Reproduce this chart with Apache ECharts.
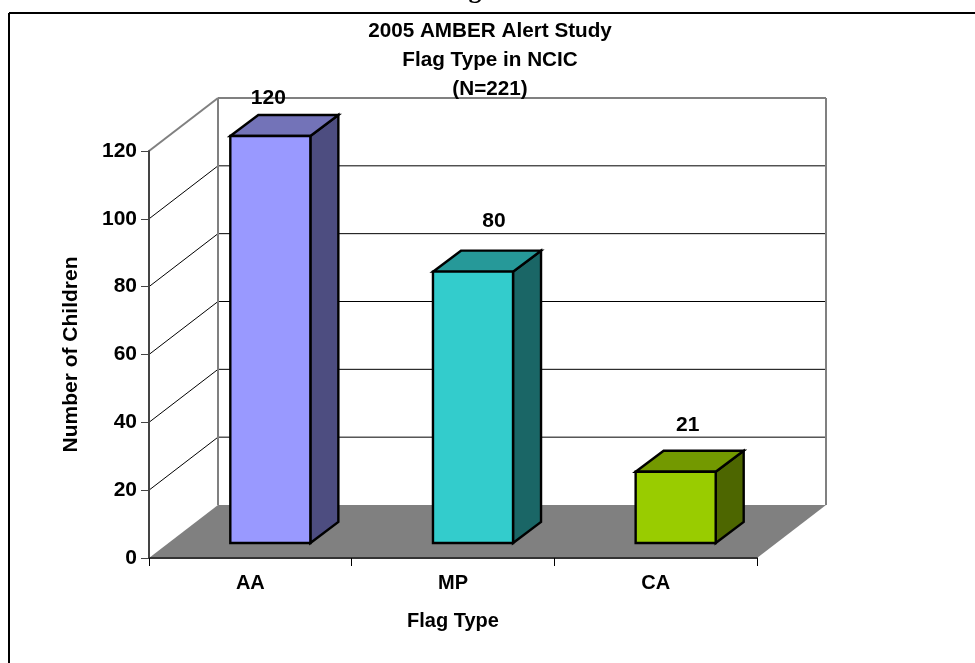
<!DOCTYPE html>
<html>
<head>
<meta charset="utf-8">
<style>html,body{margin:0;padding:0;background:#fff}#c{width:975px;height:663px}</style>
<script src="https://cdn.jsdelivr.net/npm/echarts@6/dist/echarts.min.js"></script>
</head>
<body>
<div id="c"></div>
<script>
const categories = ['AA', 'MP', 'CA'];
const values = [120, 80, 21];
const yTicks = [0, 20, 40, 60, 80, 100, 120];
const titleLines = ['2005 AMBER Alert Study', 'Flag Type in NCIC', '(N=221)'];
const frontColors = ['#9999FF', '#33CCCC', '#99CC00'];
const topColors = ['#7373B8', '#269999', '#739900'];
const sideColors = ['#4D4D80', '#1A6666', '#4D6600'];
const labelShiftX = [-2, 21, 12];
const labelShiftY = [38, 50, 47];

const FONT = '"Liberation Sans", Arial, sans-serif';
const WALL = [69, -53];         // depth of the 3D box
const BAR_FRONT = [20, -15];    // bar front face offset from the front plane
const BAR_DEPTH = [28, -21];    // bar depth
const BAR_WIDTH = 0.395;

const chart = echarts.init(document.getElementById('c'), null, {renderer: 'canvas'});

function seg(a, b, color, width) {
  return {type: 'line', shape: {x1: a[0], y1: a[1], x2: b[0], y2: b[1]},
          style: {stroke: color, lineWidth: width}, silent: true};
}
function poly(points, fill, stroke, width) {
  return {type: 'polygon', shape: {points},
          style: {fill, stroke: stroke || null, lineWidth: width || 0, lineJoin: 'miter'}};
}
const add = (p, d) => [p[0] + d[0], p[1] + d[1]];

const wallSeries = {
  type: 'custom', coordinateSystem: 'cartesian2d', z: 1, silent: true,
  data: yTicks.map(t => [0, t]),
  renderItem(params, api) {
    const v = api.value(1);
    const L = api.coord([0, v]);
    const w = api.size([1, 0])[0];
    const xL = L[0] - w / 2;
    const xR = xL + w * categories.length;
    const a = [xL, L[1]];
    const b = add(a, WALL);
    const c = [xR + WALL[0], b[1]];
    if (v === 0) {
      const d = [xR, L[1]];
      return {type: 'group', children: [poly([a, b, c, d], '#808080')]};
    }
    const top = v === yTicks[yTicks.length - 1];
    const col = top ? '#808080' : '#000';
    const lw = top ? 2 : 1;
    const children = [seg(a, b, col, lw), seg(b, c, col, lw)];
    if (top) {
      const base = api.coord([0, 0])[1] + WALL[1];
      children.push(seg(b, [b[0], base], '#808080', 2));
      children.push(seg(c, [c[0], base], '#808080', 2));
    }
    return {type: 'group', children};
  }
};

const barSeries = {
  type: 'custom', coordinateSystem: 'cartesian2d', z: 3, silent: true,
  data: values.map((v, i) => [i, v]),
  renderItem(params, api) {
    const i = api.value(0);
    const topPt = api.coord([i, api.value(1)]);
    const basePt = api.coord([i, 0]);
    const bw = api.size([1, 0])[0] * BAR_WIDTH;
    const cx = topPt[0] + BAR_FRONT[0];
    const xl = cx - bw / 2, xr = cx + bw / 2;
    const yt = topPt[1] + BAR_FRONT[1], yb = basePt[1] + BAR_FRONT[1];
    const tl = [xl, yt], tr = [xr, yt], bl = [xl, yb], br = [xr, yb];
    const lineW = 2.4;
    return {type: 'group', children: [
      poly([tr, add(tr, BAR_DEPTH), add(br, BAR_DEPTH), br], sideColors[i], '#000', lineW),
      poly([tl, add(tl, BAR_DEPTH), add(tr, BAR_DEPTH), tr], topColors[i], '#000', lineW),
      poly([tl, tr, br, bl], frontColors[i], '#000', lineW),
      {type: 'text', z2: 10, style: {
        text: String(api.value(1)), x: cx + labelShiftX[i], y: yt - labelShiftY[i],
        align: 'center', verticalAlign: 'middle', fill: '#000',
        font: 'bold 21px ' + FONT}}
    ]};
  }
};

chart.setOption({
  animation: false,
  backgroundColor: '#fff',
  title: {
    text: titleLines.join('\n'), left: 485, top: 12, textAlign: 'center',
    textStyle: {fontFamily: FONT, fontWeight: 'bold', fontSize: 20.7, lineHeight: 29, color: '#000'}
  },
  grid: {left: 149, right: 218, top: 151, bottom: 105, containLabel: false},
  xAxis: {
    type: 'category', data: categories, z: 5,
    name: 'Flag Type', nameLocation: 'middle', nameGap: 53,
    nameTextStyle: {fontFamily: FONT, fontWeight: 'bold', fontSize: 20, color: '#000'},
    axisLine: {lineStyle: {color: '#333', width: 2}},
    axisTick: {show: true, length: 8, lineStyle: {color: '#000', width: 1}},
    axisLabel: {fontFamily: FONT, fontWeight: 'bold', fontSize: 20, color: '#000', margin: 15},
    splitLine: {show: false}
  },
  yAxis: {
    type: 'value', min: 0, max: 120, interval: 20, z: 5,
    name: 'Number of Children', nameLocation: 'middle', nameGap: 67, nameRotate: 90,
    nameTextStyle: {fontFamily: FONT, fontWeight: 'bold', fontSize: 21, color: '#000'},
    axisLine: {show: true, lineStyle: {color: '#444', width: 2}},
    axisTick: {show: true, length: 8, lineStyle: {color: '#444', width: 1}},
    axisLabel: {fontFamily: FONT, fontWeight: 'bold', fontSize: 21, color: '#000', margin: 12, padding: [2, 0, 0, 0]},
    splitLine: {show: false}
  },
  graphic: [
    {type: 'line', shape: {x1: 9, y1: 13, x2: 975, y2: 13}, style: {stroke: '#000', lineWidth: 2}},
    {type: 'line', shape: {x1: 9, y1: 13, x2: 9, y2: 663}, style: {stroke: '#000', lineWidth: 2}},
    {type: 'text', x: 475, y: -22, style: {text: 'g', font: 'bold 26px "Liberation Serif", serif', fill: '#000', align: 'center', verticalAlign: 'top'}}
  ],
  series: [wallSeries, barSeries]
});
</script>
</body>
</html>
